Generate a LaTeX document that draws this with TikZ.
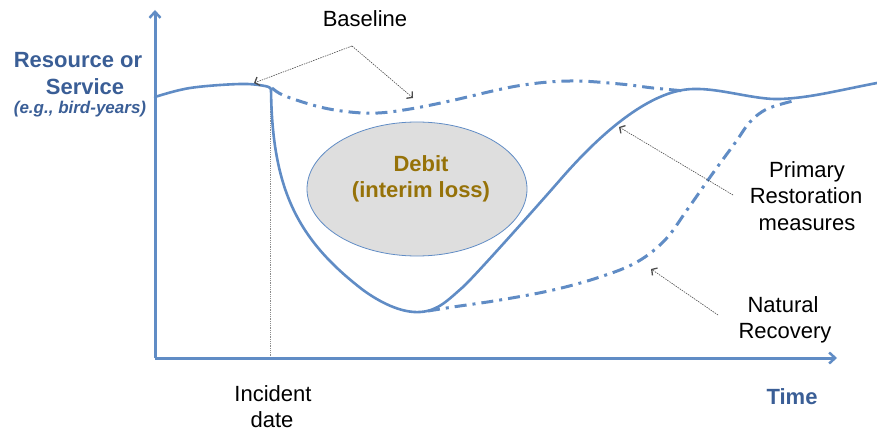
\documentclass[tikz,border=0pt]{standalone}
\usepackage{fontspec}
\setmainfont{Liberation Sans}
\usetikzlibrary{arrows.meta,shapes.geometric}
\definecolor{linecol}{RGB}{96,140,197}
\definecolor{txtblue}{RGB}{58,94,150}
\definecolor{gold}{RGB}{150,114,8}
\tikzset{
  axisline/.style={draw=linecol,line width=3pt,-{Straight Barb[length=6pt,width=11pt,line width=2.5pt]}},
  curve/.style={draw=linecol,line width=2.6pt,line join=round,line cap=round},
  dashcurve/.style={draw=linecol,line width=3pt,dash pattern=on 12pt off 6pt on 3pt off 6pt},
  note/.style={draw=black!70,line width=0.6pt,dash pattern=on 1.5pt off 1pt,-{Straight Barb[length=4pt,width=9pt,line width=1.3pt]}},
  lbl/.style={font=\fontsize{22}{26}\selectfont,anchor=base,inner sep=0pt},
  bluelbl/.style={lbl,font=\fontsize{22}{26}\selectfont\bfseries,text=txtblue},
}
\begin{document}
\begin{tikzpicture}[x=1pt,y=-1pt]
\useasboundingbox (0,0) rectangle (877,430);
% incident date line
\coordinate (inc) at (270,89);
\coordinate (O) at (155,358);
\coordinate (ytop) at (155,10);
\coordinate (xend) at (837,358);
\coordinate (incbot) at (270,358);
\draw[black!45,line width=0.4pt,dash pattern=on 1pt off 0.8pt] (inc) -- (incbot);
% axes
\draw[axisline] (O) -- (ytop);
\draw[axisline] (O) -- (xend);
% debit ellipse
\node[ellipse,draw=linecol,line width=0.8pt,fill=black!13,minimum width=220pt,minimum height=134pt,inner sep=0pt] (debit) at (417,189) {};
\node[lbl,font=\fontsize{22}{26}\selectfont\bfseries,text=gold] (deb1) at (421,172) {Debit};
\node[lbl,font=\fontsize{22}{26}\selectfont\bfseries,text=gold] (deb2) at (421,198) {(interim loss)};
% baseline (dash-dot)
\draw[dashcurve] plot[smooth,tension=0.6] coordinates {(272,88) (285,96) (320,107) (350,112) (378,113) (410,109) (450,101) (517,86) (570,81) (620,84) (653,88) (685,91)};
% natural recovery (dash-dot)
\draw[dashcurve] plot[smooth,tension=0.6] coordinates {(428,311) (453,307) (500,300) (553,290) (600,277) (637,262) (665,240) (687,210) (713,173) (735,143) (750,122) (767,109) (793,101)};
% main curve
\draw[curve] plot[smooth,tension=0.6] coordinates {(155,97) (190,88) (240,84) (265,86) (271,89)};
\draw[curve] (271,89) .. controls (272,190) and (298,240) .. (363,290)
  .. controls (385,306) and (405,313) .. (420,312)
  .. controls (438,311) and (448,300) .. (463,287)
  .. controls (475,276) and (540,203) .. (560,180)
  .. controls (580,157) and (640,90) .. (693,89)
  .. controls (720,88) and (755,100) .. (780,99)
  .. controls (810,98) and (840,90) .. (877,83);
% labels
\node[bluelbl] (res1) at (78,68) {Resource or};
\node[bluelbl] (res2) at (85,95) {Service};
\node[lbl,font=\fontsize{17}{20}\selectfont\bfseries\itshape,text=txtblue] (res3) at (80,114) {(e.g., bird-years)};
\node[lbl] (base) at (365,27) {Baseline};
\node[lbl] (pr1) at (807,178) {Primary};
\node[lbl] (pr2) at (806,204) {Restoration};
\node[lbl] (pr3) at (807,230) {measures};
\node[lbl] (nr1) at (783,312) {Natural};
\node[lbl] (nr2) at (785,338) {Recovery};
\node[lbl] (inc1) at (273,401) {Incident};
\node[lbl] (inc2) at (272,427) {date};
\node[bluelbl] (time) at (792,404) {Time};
% annotation arrows
\coordinate (bapex) at (352,46);
\coordinate (btipA) at (254,83);
\coordinate (btipB) at (413,98);
\coordinate (pstart) at (733,195);
\coordinate (ptip) at (619,127);
\coordinate (nstart) at (718,315);
\coordinate (ntip) at (651,269);
\draw[note] (bapex) -- (btipA);
\draw[note] (bapex) -- (btipB);
\draw[note] (pstart) -- (ptip);
\draw[note] (nstart) -- (ntip);
\end{tikzpicture}
\end{document}
